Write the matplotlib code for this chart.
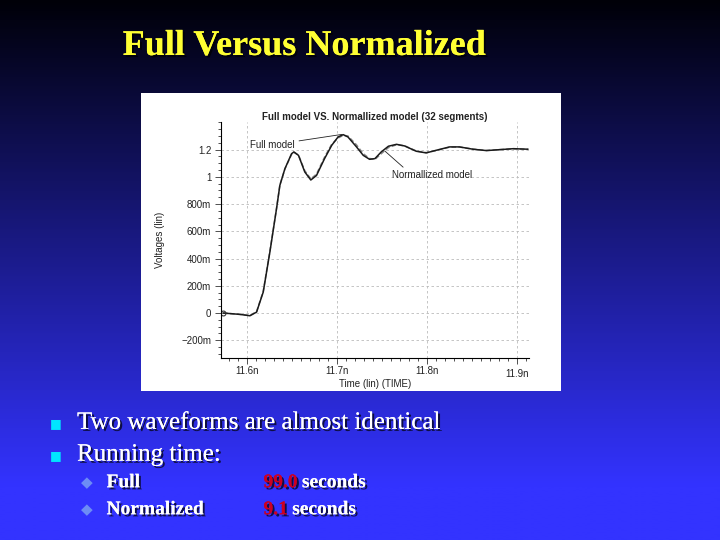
import numpy as np
import matplotlib
matplotlib.use("Agg")
import matplotlib.pyplot as plt
import matplotlib.patheffects as pe
from matplotlib.ticker import FixedLocator, MultipleLocator

# Waveform samples (time in ns, voltage in V)
time_full = [11.5733, 11.5919, 11.603, 11.6104, 11.6178, 11.6252, 11.6326, 11.6363,
             11.6419, 11.6493, 11.6519, 11.657, 11.664, 11.6707, 11.677, 11.686,
             11.694, 11.701, 11.7067, 11.712, 11.7215, 11.729, 11.736, 11.742,
             11.749, 11.757, 11.766, 11.775, 11.788, 11.799, 11.81, 11.825,
             11.836, 11.851, 11.866, 11.881, 11.896, 11.912]
volt_full = [0.0, -0.01, -0.02, 0.007, 0.154, 0.448, 0.767, 0.938,
             1.06, 1.17, 1.183, 1.158, 1.036, 0.977, 1.01, 1.134,
             1.232, 1.293, 1.31, 1.293, 1.22, 1.158, 1.129, 1.134,
             1.183, 1.225, 1.239, 1.227, 1.188, 1.176, 1.195, 1.22,
             1.22, 1.203, 1.193, 1.2, 1.207, 1.203]

time_norm = [11.5733, 11.5919, 11.603, 11.6104, 11.6178, 11.6252, 11.6326, 11.6363,
             11.6419, 11.6493, 11.6519, 11.657, 11.664, 11.6707, 11.677, 11.686,
             11.694, 11.701, 11.7067, 11.712, 11.7215, 11.729, 11.736, 11.742,
             11.749, 11.757, 11.766, 11.775, 11.788, 11.799, 11.81, 11.825,
             11.836, 11.851, 11.866, 11.881, 11.896, 11.912]
volt_norm = [0.0, -0.01, -0.018, 0.01, 0.16, 0.455, 0.77, 0.94,
             1.058, 1.165, 1.18, 1.16, 1.045, 0.985, 1.02, 1.145,
             1.24, 1.285, 1.305, 1.3, 1.235, 1.17, 1.135, 1.128,
             1.17, 1.215, 1.236, 1.228, 1.19, 1.178, 1.193, 1.218,
             1.219, 1.204, 1.194, 1.2, 1.206, 1.203]

y_ticks = [-0.2, 0.0, 0.2, 0.4, 0.6, 0.8, 1.0, 1.2]
y_labels = ["\u2212200m", "0", "200m", "400m", "600m", "800m", "1", "1.2"]
x_ticks = [11.6, 11.7, 11.8, 11.9]
x_labels = ["11.6n", "11.7n", "11.8n", "11.9n"]

fig = plt.figure(figsize=(7.2, 5.4), dpi=100)

# slide background: dark navy at top fading into bright blue
bg = fig.add_axes([0, 0, 1, 1])
h = np.linspace(0, 1, 300)
frac = np.clip(h / 0.9, 0, 1)
top = np.array([0, 0, 8]) / 255
bottom = np.array([51, 51, 255]) / 255
grad = top[None, :] + frac[:, None] * (bottom - top)[None, :]
bg.imshow(grad[:, None, :], aspect="auto", extent=[0, 1, 0, 1], origin="upper")
bg.set_xlim(0, 1)
bg.set_ylim(0, 1)
bg.axis("off")

shadow = [pe.withSimplePatchShadow(offset=(1.5, -1.5), shadow_rgbFace="black", alpha=0.7), pe.Normal()]
serif = ["Liberation Serif", "DejaVu Serif"]

fig.text(0.423, 0.914, "Full Versus Normalized", color="#ffff33", fontsize=26,
         fontweight="bold", family=serif, ha="center", va="center", path_effects=shadow)

# white panel holding the pasted simulator plot
panel = fig.add_axes([0.1958, 0.2759, 0.5833, 0.5519])
panel.set_facecolor("white")
panel.set_xticks([])
panel.set_yticks([])
for s in panel.spines.values():
    s.set_visible(False)

ax = fig.add_axes([0.3069, 0.3376, 0.4278, 0.4365])
ax.patch.set_alpha(0)
ax.plot(time_norm, volt_norm, color="#888888", lw=1.1, ls=(0, (3, 1.5)))
ax.plot(time_full, volt_full, color="#1a1a1a", lw=1.1)
ax.plot(time_full[0], volt_full[0], marker="o", ms=3.5, mfc="none", mec="#333333", mew=0.8)

ax.set_xlim(11.5708, 11.9133)
ax.set_ylim(-0.328, 1.403)
ax.yaxis.set_major_locator(FixedLocator(y_ticks))
ax.set_yticklabels(y_labels)
ax.yaxis.set_minor_locator(MultipleLocator(0.05))
ax.xaxis.set_major_locator(FixedLocator(x_ticks))
ax.set_xticklabels(x_labels)
ax.xaxis.set_minor_locator(MultipleLocator(0.01))
ax.tick_params(which="both", direction="out", labelsize=7, color="#333333", labelcolor="#222222", width=0.6)
ax.tick_params(which="major", length=4)
ax.tick_params(which="minor", length=2.5)
ax.tick_params(axis="x", pad=2)
ax.tick_params(axis="y", pad=3)
ax.get_xticklabels()[-1].set_y(-0.012)
for lab in ax.get_xticklabels() + ax.get_yticklabels():
    lab.set_family(["Liberation Sans", "DejaVu Sans"])
ax.grid(True, which="major", color="#bbbbbb", ls=(0, (3, 3)), lw=0.6)
ax.spines["top"].set_visible(False)
ax.spines["right"].set_visible(False)
ax.spines["left"].set_linewidth(0.8)
ax.spines["bottom"].set_linewidth(0.8)

sans = ["Liberation Sans", "DejaVu Sans"]
ax.set_title("Full model VS. Normallized model (32 segments)", fontsize=7, fontweight="bold",
             family=sans, pad=-2, color="#222222")
ax.set_xlabel("Time (lin) (TIME)", fontsize=7, family=sans, labelpad=0, color="#222222")
ax.set_ylabel("Voltages (lin)", fontsize=7, family=sans, labelpad=12, color="#222222")

ax.annotate("Full model", xy=(11.7055, 1.312), xytext=(11.653, 1.235),
            fontsize=7, family=sans, color="#222222", ha="right", va="center",
            arrowprops=dict(arrowstyle="-", color="#222222", lw=0.6, shrinkA=1, shrinkB=0))
ax.annotate("Normallized model", xy=(11.753, 1.19), xytext=(11.7608, 1.014),
            fontsize=7, family=sans, color="#222222", ha="left", va="center",
            arrowprops=dict(arrowstyle="-", color="#222222", lw=0.6, relpos=(0.18, 1),
                            shrinkA=0, shrinkB=0))

# bullet points
fig.text(0.078, 0.215, "\u25a0", color="#00e5ff", fontsize=9, ha="center", va="center")
fig.text(0.078, 0.156, "\u25a0", color="#00e5ff", fontsize=9, ha="center", va="center")
fig.text(0.107, 0.217, "Two waveforms are almost identical", color="white", fontsize=18,
         family=serif, ha="left", va="center", path_effects=shadow)
fig.text(0.107, 0.158, "Running time:", color="white", fontsize=18,
         family=serif, ha="left", va="center", path_effects=shadow)

rows = [("Full", "99.0"), ("Normalized", "9.1")]
ys = [0.106, 0.056]
for (name, secs), yy in zip(rows, ys):
    fig.text(0.121, yy, "\u25c6", color="#6d8cf5", fontsize=11, ha="center", va="center")
    fig.text(0.148, yy, name, color="white", fontsize=14, fontweight="bold",
             family=serif, ha="left", va="center", path_effects=shadow)
    t = fig.text(0.366, yy, secs, color="#cc0022", fontsize=14, fontweight="bold",
                 family=serif, ha="left", va="center", path_effects=shadow)
    fig.canvas.draw()
    bb = t.get_window_extent().transformed(fig.transFigure.inverted())
    fig.text(bb.x1 + 0.006, yy, "seconds", color="white", fontsize=14, fontweight="bold",
             family=serif, ha="left", va="center", path_effects=shadow)

fig.savefig("out.png", dpi=100)
